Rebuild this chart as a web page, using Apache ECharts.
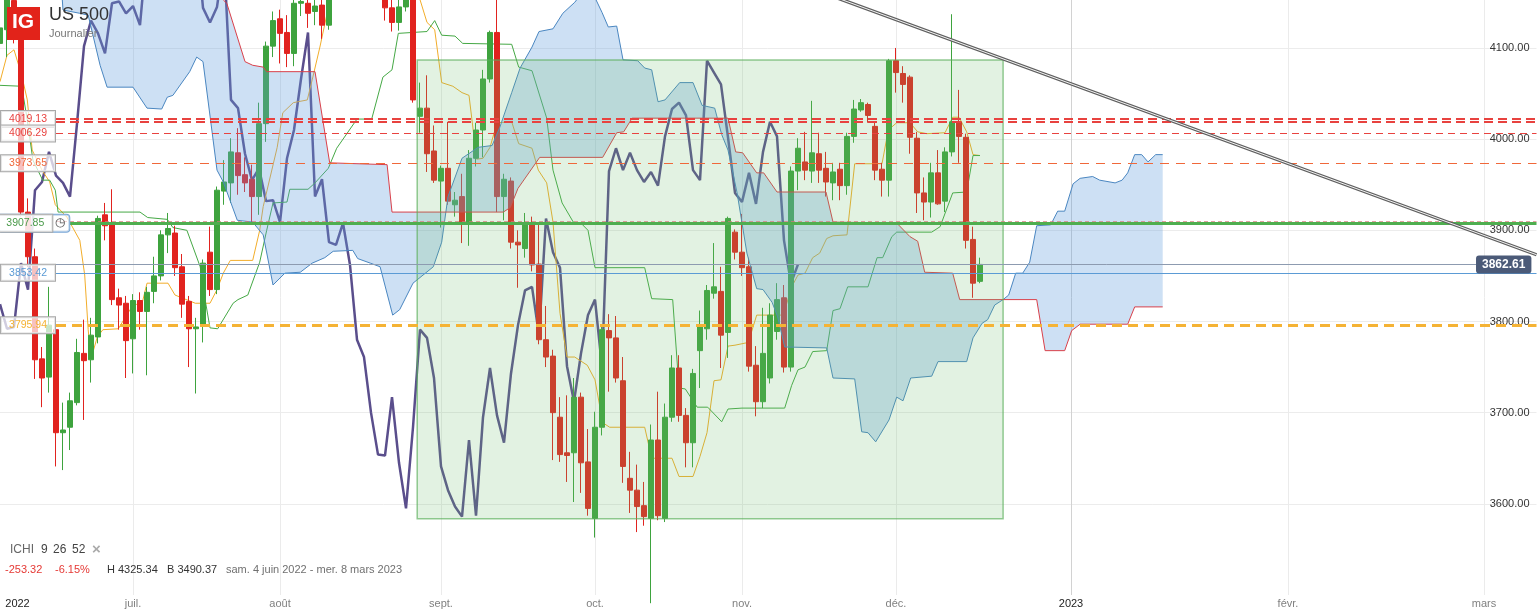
<!DOCTYPE html>
<html><head><meta charset="utf-8">
<script src="https://cdn.jsdelivr.net/npm/echarts/dist/echarts.min.js"></script>
<style>html,body{margin:0;padding:0;background:#fff}#c{width:1539px;height:612px}</style>
</head><body><div id="c"></div>
<script>
// ---------- DATA ----------
const slotCount = 220; // one slot per weekday (past) / calendar day (future)
const opens=[4105,4120,4152,4110,3920,3871,3759,3739,3791,3678,
3684,3711,3765,3758,3783,3917,3908,3826,3820,3781,
3823,3811,3833,3850,3895,3897,3860,3822,3792,3796,
3876,3835,3943,3952,3985,3961,3956,3937,4017,4102,
4132,4117,4094,4149,4149,4140,4147,4125,4210,4207,
4280,4297,4305,4274,4284,4228,4144,4128,4145,4199,
4025,4034,3987,3954,3968,3928,3937,3909,3979,4010,
4066,4117,3937,3954,3887,3880,3906,3863,3780,3762,
3695,3656,3656,3717,3646,3584,3684,3790,3782,3735,
3628,3615,3598,3584,3670,3584,3695,3749,3697,3667,
3768,3792,3831,3833,3788,3898,3876,3860,3752,3712,
3738,3789,3826,3750,3965,3975,3965,3984,3968,3952,
3967,3949,4003,4032,4038,4014,3967,3955,4086,4072,
4068,4001,3941,3931,3963,3932,3986,4019,4002,3890,
3844];
const closes=[4122,4160,4112,3920,3871,3758,3738,3796,3678,3681,
3713,3766,3757,3785,3913,3905,3824,3818,3779,3823,
3811,3832,3850,3895,3902,3859,3819,3792,3794,3864,
3835,3944,3953,3986,3960,3952,3937,4017,4102,4130,
4116,4094,4149,4151,4138,4146,4125,4210,4207,4280,
4297,4305,4274,4284,4228,4144,4128,4145,4199,4043,
4034,3984,3955,3968,3932,3933,3909,3979,4010,4066,
4117,3937,3956,3887,3884,3908,3862,3780,3761,3700,
3654,3653,3717,3645,3595,3684,3791,3782,3738,3641,
3615,3597,3586,3670,3587,3695,3749,3697,3667,3743,
3796,3834,3838,3785,3913,3876,3859,3751,3712,3765,
3807,3824,3750,3965,3990,3966,3985,3966,3953,3964,
3949,4003,4033,4040,4026,3966,3955,4086,4073,4060,
4002,3941,3931,3963,3929,3986,4019,4003,3889,3842,
3862.61];
const lows=[4095,4090,4105,3915,3860,3737,3706,3722,3641,3637,
3659,3708,3692,3733,3776,3889,3818,3791,3738,3743,
3791,3741,3820,3845,3875,3850,3804,3750,3721,3777,
3828,3830,3928,3930,3939,3942,3909,3917,3997,4090,
4083,4079,4080,4135,4122,4125,4110,4120,4201,4200,
4253,4277,4253,4262,4218,4130,4118,4119,4140,4040,
4007,3964,3952,3903,3928,3915,3886,3883,3970,3980,
4062,3920,3911,3880,3837,3870,3855,3775,3750,3648,
3646,3624,3602,3612,3587,3563,3675,3723,3733,3623,
3590,3569,3576,3491,3582,3580,3690,3690,3640,3640,
3727,3780,3825,3749,3760,3868,3850,3745,3696,3705,
3732,3780,3744,3745,3944,3955,3952,3952,3937,3933,
3933,3939,3996,4030,4018,3955,3937,3937,4051,4040,
3984,3919,3911,3914,3928,3920,3981,3974,3880,3826,
3842];
const highs=[4135,4168,4160,4115,3935,3880,3772,3838,3800,3711,
3722,3781,3802,3804,3916,3930,3945,3836,3828,3830,
3832,3838,3871,3900,3919,3905,3874,3828,3804,3868,
3904,3948,3977,4001,4012,3980,3972,4040,4107,4140,
4142,4136,4160,4165,4160,4160,4155,4212,4257,4282,
4301,4325,4310,4292,4290,4230,4159,4156,4203,4203,
4062,4070,4015,3971,4019,3942,3962,3988,4018,4076,
4119,4160,3962,3958,3900,3919,3915,3908,3817,3769,
3717,3719,3738,3722,3682,3701,3796,3808,3806,3761,
3657,3643,3624,3687,3723,3710,3763,3763,3705,3748,
3812,3840,3886,3860,3915,3901,3918,3870,3773,3815,
3820,3842,3840,3970,4001,4008,4042,4007,3986,3974,
3974,4007,4043,4044,4040,4018,3974,4088,4100,4080,
4070,4008,3958,3974,3988,3991,4137,4054,4006,3904,
3870];
// Chikou span (lagging line), starts at slot 0
const chikou=[3819,3792,3794,3864,3835,3944,3953,3986,3960,3952,3937,4017,4102,4130,
4116,4094,4149,4151,4138,4146,4125,4210,4207,4280,4297,4305,4274,4284,4228,4144,4128,4145,4199,4043,
4034,3984,3955,3968,3932,3933,3909,3979,4010,4066,4117,3937,3956,3887,3884,3908,3862,3780,3761,3700,
3654,3653,3717,3645,3595,3684,3791,3782,3738,3641,3615,3597,3586,3670,3587,3695,3749,3697,3667,3743,
3796,3834,3838,3785,3913,3876,3859,3751,3712,3765,3807,3824,3750,3965,3990,3966,3985,3966,3953,3964,
3949,4003,4033,4040,4026,3966,3955,4086,4073,4060,4002,3941,3931,3963,3929,3986,4019,4003,3889,3842,3862.61];
// [slot, value]
const tenkan=[[0,4063],[1,4092],[2,4098],[3.1,4070],[3.9,4043],[4.6,3988],[6,3966],[7.1,3953],[7.9,3928],[9.6,3914],[11.4,3889],[12.1,3851],[12.6,3791],[13,3759],[13.9,3783],[14.7,3791],[16.9,3792],[18.1,3807],[19,3818],[20.3,3820],[21,3842],[24,3842],[25,3829],[27.9,3820],[30,3820],[31,3835],[31.9,3853],[32.9,3867],[36.1,3867],[37.1,3900],[37.6,3926],[39.6,3991],[40.4,4029],[41.9,4040],[43.9,4043],[44.6,4065],[45.7,4101],[46.9,4144],[48,4180],[52,4240],[56,4230],[59,4175],[60,4153],[61,4128],[62.1,4120],[63.1,4062],[64.7,4058],[66,4051],[67,4048],[68.1,3978],[69,3979],[70,3991],[71,4018],[73.1,4019],[74.1,3995],[76,3990],[76.9,3966],[78.1,3952],[79,3909],[80,3809],[81,3761],[82.1,3761],[83.9,3752],[85,3736],[86.1,3689],[87.1,3684],[92.1,3684],[93.1,3650],[96,3650],[97,3630],[99,3630],[100,3652],[101,3678],[102,3735],[103,3736],[104,3773],[105,3774],[106.9,3777],[108.1,3807],[111.9,3807],[113.1,3838],[114,3851],[115,3853],[116.1,3870],[117.1,3875],[118.1,3891],[119,3894],[121,3895],[122.1,3973],[126,3973],[126.9,4010],[128.1,4018],[130,4018],[131.1,4008],[132.4,4006],[135,4007],[136.1,4024],[137,4024],[138.1,4008],[139,3983],[140,3982]];
const kijun=[[0,4059],[3.1,4058],[3.9,4021],[4.7,3977],[6.1,3955],[7.1,3955],[7.9,3944],[8.3,3920],[20,3920],[21.1,3914],[23.9,3912],[24.7,3903],[26.7,3900],[28.6,3860],[29.3,3824],[30,3793],[31.1,3792],[33.3,3820],[34,3824],[35.4,3829],[37.1,3865],[38.1,3900],[39,3930],[41,3931],[41.4,3945],[44,3945],[45,3952],[46.9,3968],[48.1,3990],[51,4022],[53.1,4022],[54.7,4068],[56,4076],[56.9,4116],[61,4118],[62.1,4130],[63.1,4114],[65,4113],[66.1,4105],[73.1,4104],[74.1,4079],[76,4075],[78.1,4023],[79,3966],[80.3,3930],[81.9,3909],[83.1,3907],[84,3900],[85,3859],[92.1,3859],[93.1,3825],[96.1,3824],[97,3727],[97.9,3726],[99.6,3706],[101.1,3706],[103.1,3690],[104,3704],[106,3705],[112.1,3705],[113.1,3730],[114,3747],[115,3750],[116.1,3767],[118.1,3768],[119,3812],[120,3814],[121.1,3838],[124,3838],[125.3,3870],[126.1,3870],[127.4,3893],[128.1,3898],[133.1,3898],[134.3,3904],[136.1,3941],[138.1,3942],[139,3982],[140,3982]];
const senkouA=[[7.9,4163],[8.9,4152.6],[9,4141.6],[11.4,4138],[12.6,4136],[14.3,4081],[15.3,4057],[19,4057],[21,4034],[23.1,4033],[23.9,4046],[24.7,4048],[27.1,4074],[28.1,4090],[29,4085],[31,3966],[31.9,3953],[33.9,3911],[36.1,3909],[37.6,3895],[39,3840],[40.7,3853],[42.9,3854],[44.6,3864],[46.4,3870],[47.6,3877],[50.4,3878],[51.1,3869],[52.9,3864],[54.3,3860],[56.1,3807],[57.1,3813],[59,3842],[61.9,3860],[63.1,3887],[64,3937],[66,3979],[68.3,3991],[70.3,3993],[71.4,4013],[73.1,4051],[74.3,4078],[76,4101],[77,4118],[79,4121],[80.4,4138],[82.1,4150],[83.6,4165],[84.7,4160],[86,4139],[86.9,4123],[88.1,4124],[89,4087],[91.1,4086],[92.1,4078],[93.1,4076],[94,4041],[95,4043],[97.1,4062],[99,4062],[100.3,4037],[102.1,4034],[103.1,4005],[104,3988],[105.3,3941],[106.7,3875],[108.1,3836],[109,3835],[110.3,3821],[111.1,3805],[112.1,3772],[118.1,3771],[119,3738],[122.1,3737],[123.1,3679],[124,3678],[125.1,3668],[127,3692],[128.1,3717],[129,3713],[130.1,3738],[133.1,3740],[134,3756],[138.1,3756],[139,3782],[140.3,3798],[141.1,3802],[142.1,3818],[143.3,3824],[144.1,3829],[145.1,3853],[146.1,3853],[147.1,3865],[148.1,3905],[150.1,3906],[151.1,3921],[152.1,3921],[153.3,3951],[154.3,3957],[156.1,3959],[157.1,3955],[159.3,3952],[160.3,3955],[161.1,3963],[162.1,3983],[163.1,3983],[164,3975],[165.1,3983],[166.1,3983]];
const senkouB=[[7.9,4230],[28,4205],[31.9,4152.6],[32.4,4149],[35,4085],[36.1,4081],[37.6,4079],[38.1,4074],[45,4074],[47.1,3974],[55.3,3972],[56,3920],[71.9,3920],[72.9,3925],[74,3946],[77.1,3980],[86.1,3980],[88.1,4007],[89.1,4008],[90.3,4023],[104,4023],[105.1,3986],[106.1,3985],[108.1,3963],[109.1,3963],[111,3942],[118,3942],[119,3909],[128.1,3908],[130,3893],[131.1,3888],[132.1,3854],[136.1,3853],[137.1,3824],[148.1,3824],[149.3,3768],[152.1,3768],[153.1,3790],[154.3,3797],[161.1,3797],[162.1,3816],[166.1,3816]];
const zone=[59.6,4086.8,143.3,3583.6];          // [slotFrom, top, slotTo, bottom]
const trendLine=[[110,4181.9],[219.5,3873.2]];
const levelValues=[4022.1,4019.13,4006.29,3973.65,3909.6,3907.85,3862.61,3853.42,3795.94];
const levelLabels=['4019.13','','4006.29','3973.65','','3907.85','3862.61','3853.42','3795.94'];
const monthTicks=[[2,'2022'],[19,'juil.'],[40,'août'],[63,'sept.'],[85,'oct.'],[106,'nov.'],[128,'déc.'],[153,'2023'],[184,'févr.'],[212,'mars']];
const yTicks=[3600,3700,3800,3900,4000,4100];

// ---------- STYLES ----------
const FONT='"Liberation Sans", Arial, sans-serif';
const levelStyles=[
 {color:'#e8423f',width:2,type:[9,5],from:8,labelColor:'#e8423f'},
 {color:'#e8423f',width:2,type:[9,5],from:8},
 {color:'#e8423f',width:1.2,type:[7,5],from:8,labelColor:'#e8423f'},
 {color:'#f0683a',width:1.2,type:[9,7],from:8,labelColor:'#f0683a'},
 {color:'rgba(214,120,120,0.7)',width:1,type:[4,3],from:8},
 {color:'#4fae4f',width:3,type:'solid',from:9.9,labelColor:'#4a9a4a',alert:true},
 {color:'#8d9bb0',width:1,type:'solid',from:-0.5,to:210.86,tag:true},
 {color:'#5b9bd5',width:1.2,type:'solid',from:8,labelColor:'#5b9bd5'},
 {color:'#f5b335',width:3,type:[10,6],from:8,labelColor:'#f5b335'}
];

const categories=[]; for(let i=0;i<slotCount;i++) categories.push(String(i));
const tickMap={}; monthTicks.forEach(t=>tickMap[t[0]]=t[1]);
const candleData=opens.map((o,i)=>[o,closes[i],lows[i],highs[i]]);

const levelLines=levelValues.map((v,i)=>{
  const s=levelStyles[i];
  let label={show:false};
  if(s.tag){
    label={show:true,position:'end',distance:0,formatter:levelLabels[i],color:'#fff',fontWeight:'bold',fontSize:12,fontFamily:FONT,backgroundColor:'#4b5a78',borderRadius:3,padding:[3,6,3,6]};
  } else if(s.alert){
    label={show:true,position:'start',distance:0,formatter:'{v|'+levelLabels[i]+'}{i|◷}',backgroundColor:'rgba(255,255,255,0.55)',borderColor:'#7aa7d6',borderWidth:1,borderRadius:3,padding:[0,2,0,0],
      rich:{v:{color:s.labelColor,fontSize:10.5,fontFamily:FONT,padding:[3,8,3,8],borderColor:'#a8a8a8',borderWidth:1,backgroundColor:'rgba(255,255,255,0.7)'},
            i:{color:'#555',fontSize:12,padding:[0,2,0,3]}}};
  } else if(levelLabels[i]){
    label={show:true,position:'start',distance:1,formatter:levelLabels[i],color:s.labelColor,fontSize:10.5,fontFamily:FONT,lineHeight:12,padding:[2,8,2,8],backgroundColor:'rgba(255,255,255,0.72)',borderColor:'#a8a8a8',borderWidth:1};
  }
  return [{coord:[s.from,v],lineStyle:{color:s.color,width:s.width,type:s.type},label:label},{coord:[s.to!==undefined?s.to:219.5,v]}];
});

const gridLines=yTicks.map(v=>({yAxis:v,lineStyle:{color:'#ececec',width:1,type:'solid'}}))
 .concat(monthTicks.filter(t=>t[1]!=='2022').map(t=>({xAxis:t[0],lineStyle:{color:/^\d{4}$/.test(t[1])?'#d2d2d2':'#ebebeb',width:1,type:'solid'}})));

const chart=echarts.init(document.getElementById('c'),null,{renderer:'canvas'});
chart.setOption({
  animation:false,
  backgroundColor:'#fff',
  grid:{left:-3.5,right:2.5,top:0,bottom:17,containLabel:false,outerBoundsMode:'none'},
  xAxis:[
    {type:'category',data:categories,boundaryGap:true,
     axisLine:{show:false},axisTick:{show:false},splitLine:{show:false},
     axisLabel:{interval:(idx)=>tickMap[idx]!==undefined,margin:3,
       formatter:(val,idx)=>{const l=tickMap[idx]; if(l===undefined) return ''; return /^\d{4}$/.test(l)?(idx===2?'{f|'+l+'}':'{y|'+l+'}'):'{m|'+l+'}';},
       rich:{y:{color:'#222',fontSize:11,fontFamily:FONT},f:{color:'#222',fontSize:11,fontFamily:FONT,padding:[0,0,0,7]},m:{color:'#808080',fontSize:11,fontFamily:FONT}}}},
    {type:'value',min:-0.5,max:219.5,show:false}
  ],
  yAxis:{type:'value',min:3500,max:4152.6,interval:100,position:'right',
    axisLine:{show:false},axisTick:{show:false},splitLine:{show:false},
    axisLabel:{inside:true,margin:7,color:'#333',fontSize:11,fontFamily:FONT,showMinLabel:false,showMaxLabel:false,formatter:v=>v.toFixed(2)}},
  series:[
    {name:'grid',type:'line',xAxisIndex:1,data:[[-10,3800]],symbol:'none',lineStyle:{opacity:0},silent:true,z:0,
     markLine:{silent:true,symbol:['none','none'],z:0,label:{show:false},data:gridLines}},
    {name:'US 500',type:'candlestick',xAxisIndex:0,data:candleData,barWidth:6,clip:true,z:2,
     itemStyle:{color:'#3ea33e',color0:'#e1231f',borderColor:'#3ea33e',borderColor0:'#e1231f',borderWidth:1}},
    {name:'Chikou',type:'line',xAxisIndex:0,data:chikou,symbol:'none',z:2,lineStyle:{color:'#5a4e8c',width:2.5}},
    {name:'Tenkan',type:'line',xAxisIndex:1,data:tenkan,symbol:'none',z:2,lineStyle:{color:'#f2ad2a',width:1}},
    {name:'Kijun',type:'line',xAxisIndex:1,data:kijun,symbol:'none',z:2,lineStyle:{color:'#45a845',width:1}},
    {name:'Cloud',type:'custom',xAxisIndex:1,data:[[0,3800]],z:3,silent:true,clip:true,
     renderItem:(params,api)=>{
       const pts=senkouA.map(p=>api.coord(p)).concat(senkouB.slice().reverse().map(p=>api.coord(p)));
       return {type:'polygon',shape:{points:pts},style:{fill:'rgba(100,160,220,0.32)'}};
     }},
    {name:'Senkou A',type:'line',xAxisIndex:1,data:senkouA,symbol:'none',z:4,lineStyle:{color:'#4a86c0',width:1}},
    {name:'Senkou B',type:'line',xAxisIndex:1,data:senkouB,symbol:'none',z:4,lineStyle:{color:'#d9404a',width:1}},
    {name:'Zone',type:'custom',xAxisIndex:1,data:[zone],encode:{x:[0,2],y:[1,3]},z:5,silent:true,
     renderItem:(params,api)=>{
       const a=api.coord([api.value(0),api.value(1)]); const b=api.coord([api.value(2),api.value(3)]);
       return {type:'rect',shape:{x:a[0],y:a[1],width:b[0]-a[0],height:b[1]-a[1]},style:{fill:'rgba(110,190,110,0.2)',stroke:'rgba(90,175,90,0.65)',lineWidth:1.5}};
     }},
    {name:'levels',type:'line',xAxisIndex:1,data:[[-10,3800]],symbol:'none',lineStyle:{opacity:0},silent:true,z:6,
     markLine:{silent:true,symbol:['none','none'],z:6,data:levelLines}},
    {name:'trend',type:'line',xAxisIndex:1,data:trendLine,symbol:'none',z:7,silent:true,lineStyle:{color:'#606060',width:3.4}},
    {name:'trend2',type:'line',xAxisIndex:1,data:trendLine,symbol:'none',z:7,silent:true,lineStyle:{color:'#f4f4f4',width:1}}
  ],
  graphic:[
    {type:'rect',left:7,top:7,shape:{width:33,height:33},style:{fill:'#e2231a'},z:100},
    {type:'text',left:12,top:12,style:{text:'IG',fill:'#fff',font:'bold 21px '+FONT},z:101},
    {type:'text',left:49,top:6,style:{text:'US 500',fill:'#333',font:'18px '+FONT},z:101},
    {type:'text',left:49,top:28,style:{text:'Journalier',fill:'#777',font:'11px '+FONT},z:101},
    {type:'text',left:10,top:544,style:{text:'ICHI',fill:'#666',font:'12px '+FONT},z:101},
    {type:'text',left:41,top:544,style:{text:'9',fill:'#444',font:'12px '+FONT},z:101},
    {type:'text',left:53,top:544,style:{text:'26',fill:'#444',font:'12px '+FONT},z:101},
    {type:'text',left:72,top:544,style:{text:'52',fill:'#444',font:'12px '+FONT},z:101},
    {type:'text',left:92,top:542,style:{text:'×',fill:'#aaa',font:'bold 15px '+FONT},z:101},
    {type:'text',left:5,top:564,style:{text:'-253.32',fill:'#e53935',font:'11px '+FONT},z:101},
    {type:'text',left:55,top:564,style:{text:'-6.15%',fill:'#e53935',font:'11px '+FONT},z:101},
    {type:'text',left:107,top:564,style:{text:'H 4325.34',fill:'#333',font:'11px '+FONT},z:101},
    {type:'text',left:167,top:564,style:{text:'B 3490.37',fill:'#333',font:'11px '+FONT},z:101},
    {type:'text',left:226,top:564,style:{text:'sam. 4 juin 2022 - mer. 8 mars 2023',fill:'#707070',font:'11px '+FONT},z:101}
  ]
});
</script></body></html>
